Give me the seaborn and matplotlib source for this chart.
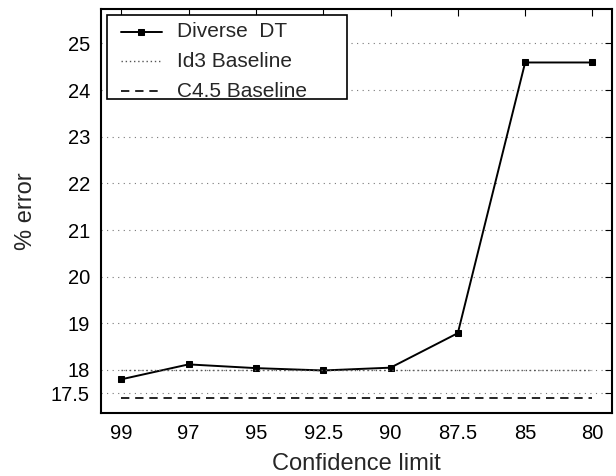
import numpy as np
import pandas as pd
import matplotlib
matplotlib.use("Agg")
import matplotlib.pyplot as plt
from matplotlib.lines import Line2D
from matplotlib.legend_handler import HandlerLine2D
import seaborn as sns

categories = ["99", "97", "95", "92.5", "90", "87.5", "85", "80"]
diverse_dt = [17.80, 18.12, 18.04, 17.99, 18.05, 18.79, 24.59, 24.59]
id3_baseline = [18.0] * 8
c45_baseline = [17.39] * 8
yticks = [17.5, 18, 19, 20, 21, 22, 23, 24, 25]
ytick_labels = ["17.5", "18", "19", "20", "21", "22", "23", "24", "25"]

sns.set_style("white")
plt.rcParams['font.family'] = ['Liberation Sans', 'DejaVu Sans']

pos = np.arange(len(categories))
df = pd.DataFrame({"pos": pos, "dt": diverse_dt, "id3": id3_baseline, "c45": c45_baseline})

fig = plt.figure(figsize=(6.16, 4.76), dpi=100)
ax = fig.add_axes([0.164, 0.133, 0.8295, 0.8475])

for y in yticks:
    ax.axhline(y, color="#777777", linestyle=(0, (1, 4)), linewidth=0.8, zorder=0)

sns.lineplot(data=df, x="pos", y="dt", ax=ax, color="black", linewidth=1.4,
             marker="s", markersize=5, markeredgecolor="black", label="Diverse  DT")
sns.lineplot(data=df, x="pos", y="id3", ax=ax, color="#555555", linewidth=1.0,
             linestyle=(0, (1, 2)), label="Id3 Baseline")
sns.lineplot(data=df, x="pos", y="c45", ax=ax, color="black", linewidth=1.2,
             linestyle=(0, (5, 3.5)), label="C4.5 Baseline")

ax.set_xlim(-0.3, 7.29)
ax.set_ylim(17.085, 25.73)
ax.set_xticks(pos)
ax.set_xticklabels(categories)
ax.set_yticks(yticks)
ax.set_yticklabels(ytick_labels)
ax.tick_params(direction="in", top=True, right=True, length=5, width=0.8,
               labelsize=14.5, colors="black", pad=8)
for s in ax.spines.values():
    s.set_color("black")
    s.set_linewidth(1.5)
ax.set_xlabel("Confidence limit", fontsize=17, labelpad=7)
ax.set_ylabel("% error", fontsize=17, labelpad=10)


class ShiftedLineHandler(HandlerLine2D):
    def create_artists(self, legend, orig_handle, xdescent, ydescent,
                       width, height, fontsize, trans):
        arts = super().create_artists(legend, orig_handle, xdescent, ydescent,
                                      width, height, fontsize, trans)
        for a in arts:
            a.set_ydata(np.asarray(a.get_ydata(), dtype=float) - 4.5)
        return arts


handles, labels = ax.get_legend_handles_labels()
leg = ax.legend(handles, labels, loc="upper left", fontsize=15, frameon=True,
                fancybox=False, edgecolor="black", framealpha=1,
                bbox_to_anchor=(0.011, 0.0, 0.470, 0.986), mode="expand",
                borderaxespad=0.0, handlelength=2.54, handletextpad=0.7,
                labelspacing=0.52, borderpad=0.13,
                handler_map={Line2D: ShiftedLineHandler(xpad=0.54)})
leg.get_frame().set_linewidth(1.2)
for t in leg.get_texts():
    t.set_y(-4.5)

fig.savefig("out.png", dpi=100)
